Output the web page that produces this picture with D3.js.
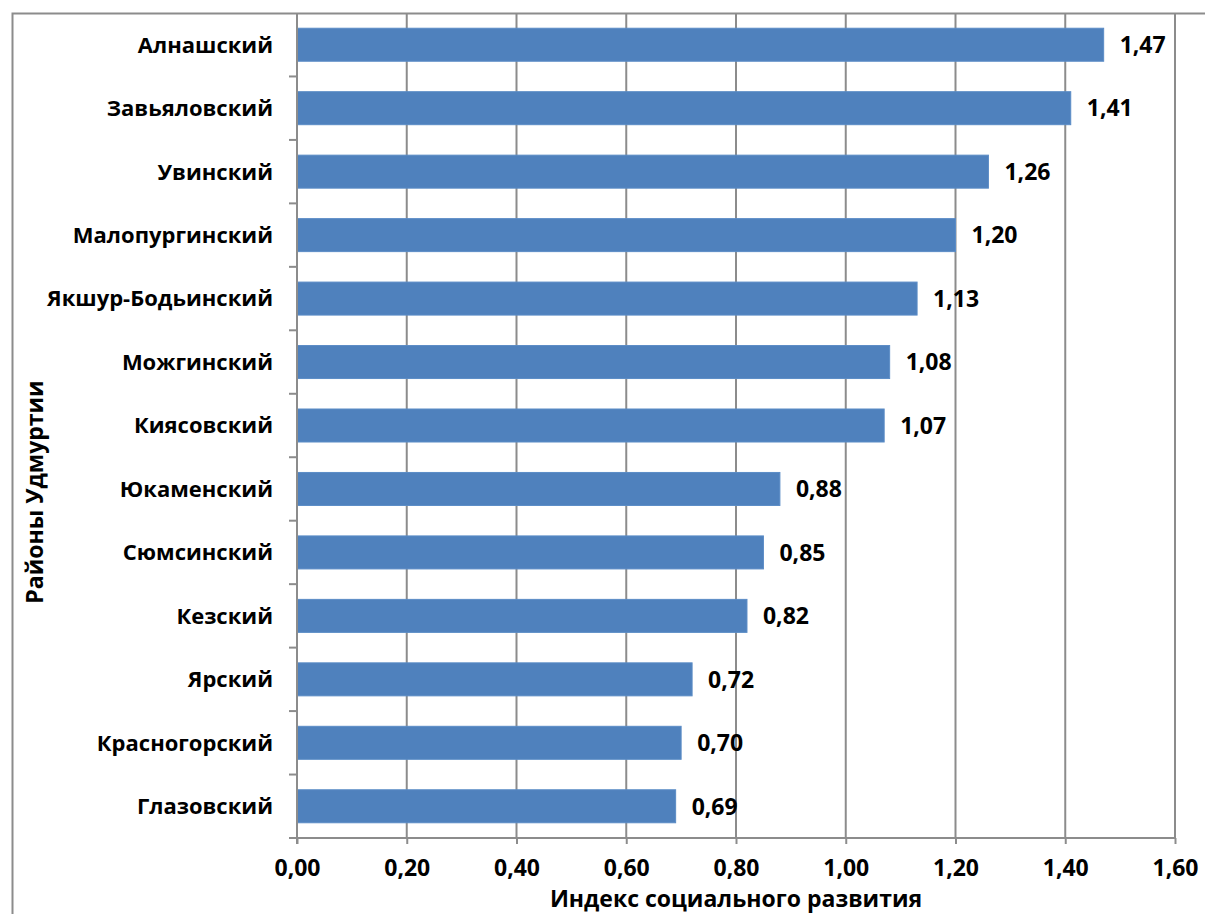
<!DOCTYPE html>
<html>
<head>
<meta charset="utf-8">
<script src="https://cdn.jsdelivr.net/npm/d3@7"></script>
<style>
  body { margin: 0; background: #fff; }
  text { font-family: "Open Sans", "Noto Sans", sans-serif; font-weight: bold; fill: #000; }
</style>
</head>
<body>
<div id="chart"></div>
<script>
// districts, top to bottom
var districts = ["Алнашский", "Завьяловский", "Увинский", "Малопургинский", "Якшур-Бодьинский",
  "Можгинский", "Киясовский", "Юкаменский", "Сюмсинский", "Кезский", "Ярский",
  "Красногорский", "Глазовский"];
var index_values = [1.47, 1.41, 1.26, 1.20, 1.13, 1.08, 1.07, 0.88, 0.85, 0.82, 0.72, 0.70, 0.69];
var x_ticks = [0, 0.2, 0.4, 0.6, 0.8, 1.0, 1.2, 1.4, 1.6];
var x_title = "Индекс социального развития";
var y_title = "Районы Удмуртии";

var W = 1205, H = 914;
var margin = {top: 13, right: 30, bottom: 76, left: 297};
var dims = {width: 1175 - margin.left, height: 838 - margin.top};

var fmt = function(v) { return d3.format(".2f")(v).replace(".", ","); };

var svg = d3.select("#chart")
  .append("svg")
    .attr("width", W)
    .attr("height", H);

// outer chart frame (runs off the picture right and bottom)
svg.append("path")
  .attr("d", "M12.5," + (H + 5) + "V13.5H" + (W + 5))
  .attr("fill", "none")
  .attr("stroke", "#8c8c8c")
  .attr("stroke-width", 2);

var g = svg.append("g")
  .attr("transform", "translate(" + margin.left + "," + margin.top + ")");

var x = d3.scaleLinear()
  .domain([0, 1.6])
  .range([0, dims.width]);

var y = d3.scaleBand()
  .domain(districts)
  .range([0, dims.height])
  .paddingInner(0.48)
  .paddingOuter(0.24);

// vertical gridlines
g.selectAll(".grid")
  .data(x_ticks.slice(1))
  .enter()
  .append("line")
    .attr("x1", function(d) { return x(d); })
    .attr("x2", function(d) { return x(d); })
    .attr("y1", 0)
    .attr("y2", dims.height)
    .attr("stroke", "#8c8c8c")
    .attr("stroke-width", 2);

// bars
g.selectAll(".bar")
  .data(index_values)
  .enter()
  .append("rect")
    .attr("x", x(0))
    .attr("y", function(d, i) { return y(districts[i]); })
    .attr("width", function(d) { return x(d) - x(0); })
    .attr("height", y.bandwidth())
    .attr("fill", "#4f81bd")
    .attr("stroke", "#5b8cc6")
    .attr("stroke-width", 1);

// value labels
g.selectAll(".val")
  .data(index_values)
  .enter()
  .append("text")
    .attr("x", function(d) { return x(d) + 16; })
    .attr("y", function(d, i) { return y(districts[i]) + y.bandwidth() / 2; })
    .attr("dy", "0.36em")
    .attr("font-size", 23)
    .text(function(d) { return fmt(d); });

// x axis
var xAxis = g.append("g")
  .attr("transform", "translate(0," + dims.height + ")")
  .call(d3.axisBottom(x).tickValues(x_ticks).tickSize(6).tickPadding(16).tickFormat(fmt));
xAxis.select(".domain").attr("stroke", "#8c8c8c").attr("stroke-width", 2).attr("d", "M0,0H" + dims.width);
xAxis.selectAll(".tick line").attr("stroke", "#8c8c8c").attr("stroke-width", 2);
xAxis.selectAll(".tick text").attr("font-size", 23).attr("font-family", "Open Sans").attr("font-weight", "bold").attr("fill", "#000");

// y axis: ticks on category boundaries
var boundaries = d3.range(districts.length + 1).map(function(i) { return i * dims.height / districts.length; });
g.append("line")
  .attr("x1", 0).attr("x2", 0)
  .attr("y1", 0).attr("y2", dims.height + 6)
  .attr("stroke", "#8c8c8c")
  .attr("stroke-width", 2);
g.selectAll(".ytick")
  .data(boundaries.slice(1))
  .enter()
  .append("line")
    .attr("x1", -8).attr("x2", 0)
    .attr("y1", function(d) { return d; })
    .attr("y2", function(d) { return d; })
    .attr("stroke", "#8c8c8c")
    .attr("stroke-width", 2);

g.selectAll(".cat")
  .data(districts)
  .enter()
  .append("text")
    .attr("x", -24)
    .attr("y", function(d) { return y(d) + y.bandwidth() / 2; })
    .attr("dy", "0.36em")
    .attr("text-anchor", "end")
    .attr("font-size", 22)
    .text(function(d) { return d; });

// axis titles
svg.append("text")
  .attr("x", 736)
  .attr("y", 907)
  .attr("text-anchor", "middle")
  .attr("font-size", 23)
  .text(x_title);

svg.append("text")
  .attr("transform", "translate(43,492) rotate(-90)")
  .attr("text-anchor", "middle")
  .attr("font-size", 23)
  .text(y_title);
</script>
</body>
</html>
